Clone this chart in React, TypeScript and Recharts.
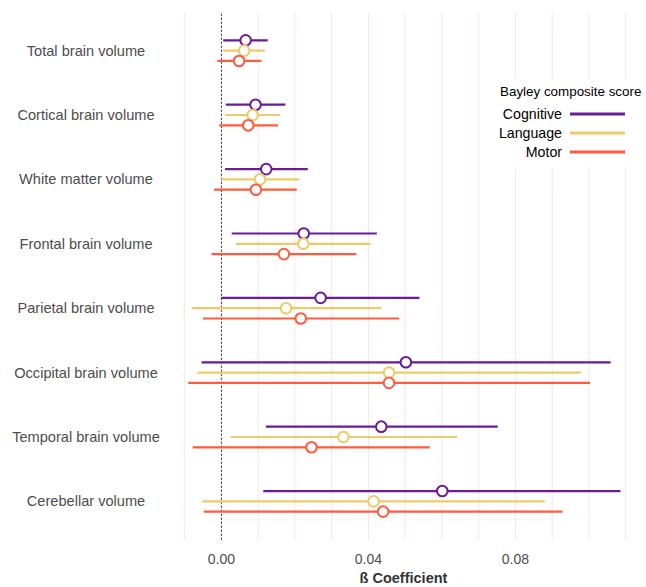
import React from 'react';
import { ScatterChart, Scatter, XAxis, YAxis, ErrorBar, ReferenceLine, Legend } from 'recharts';

// regions, top to bottom
const REGIONS = [
  'Total brain volume',
  'Cortical brain volume',
  'White matter volume',
  'Frontal brain volume',
  'Parietal brain volume',
  'Occipital brain volume',
  'Temporal brain volume',
  'Cerebellar volume',
];

// estimate, lower CI, upper CI per region
const COG_EST = [0.0066, 0.0093, 0.0122, 0.0224, 0.0270, 0.0502, 0.0435, 0.0601];
const COG_LOW = [0.0005, 0.0012, 0.0010, 0.0028, 0.0000, -0.0054, 0.0121, 0.0114];
const COG_HIGH = [0.0126, 0.0174, 0.0235, 0.0423, 0.0539, 0.1059, 0.0752, 0.1086];

const LANG_EST = [0.0062, 0.0085, 0.0105, 0.0223, 0.0176, 0.0456, 0.0332, 0.0414];
const LANG_LOW = [0.0005, 0.0010, 0.0000, 0.0039, -0.0081, -0.0065, 0.0025, -0.0052];
const LANG_HIGH = [0.0118, 0.0160, 0.0212, 0.0406, 0.0435, 0.0978, 0.0641, 0.0880];

const MOT_EST = [0.0048, 0.0073, 0.0094, 0.0170, 0.0216, 0.0456, 0.0245, 0.0440];
const MOT_LOW = [-0.0011, -0.0006, -0.0020, -0.0027, -0.0050, -0.0090, -0.0078, -0.0048];
const MOT_HIGH = [0.0109, 0.0154, 0.0205, 0.0367, 0.0484, 0.1003, 0.0567, 0.0928];

const X_TICKS = [0, 0.04, 0.08];
const GRID_X = [-0.01, 0.01, 0.02, 0.03, 0.04, 0.05, 0.06, 0.07, 0.08, 0.09, 0.1, 0.11];

const FONT = '"Liberation Sans", Arial, sans-serif';

const SERIES = [
  { name: 'Cognitive', color: '#6a1b9a', dodge: -0.16, est: COG_EST, low: COG_LOW, high: COG_HIGH },
  { name: 'Language', color: '#eccb6a', dodge: 0, est: LANG_EST, low: LANG_LOW, high: LANG_HIGH },
  { name: 'Motor', color: '#ff5b3d', dodge: 0.16, est: MOT_EST, low: MOT_LOW, high: MOT_HIGH },
];

function rows(s: (typeof SERIES)[number]) {
  return s.est.map((v, i) => ({
    x: v,
    y: i + s.dodge,
    err: [v - s.low[i], s.high[i] - v],
  }));
}

function RegionTick({ y, payload }: any) {
  return (
    <text x={86} y={y} textAnchor="middle" dominantBaseline="central" fontSize={14.6} fill="#4d4d4d" fontFamily={FONT}>
      {REGIONS[payload.value]}
    </text>
  );
}

function LegendBox() {
  return (
    <div style={{ background: '#fff', width: 147, height: 88, fontFamily: FONT, color: '#000' }}>
      <div style={{ height: 25, lineHeight: '25px', fontSize: 13.4, paddingLeft: 7, whiteSpace: 'nowrap' }}>
        Bayley composite score
      </div>
      {SERIES.map((s) => (
        <div key={s.name} style={{ display: 'flex', alignItems: 'center', height: 19 }}>
          <span style={{ width: 69, textAlign: 'right', fontSize: 14.2 }}>{s.name}</span>
          <svg width={55} height={4} style={{ marginLeft: 8 }}>
            <line x1={0} x2={55} y1={2} y2={2} stroke={s.color} strokeWidth={3} />
          </svg>
        </div>
      ))}
    </div>
  );
}

export default function App() {
  return (
    <div style={{ position: 'absolute', left: 0, top: 0, width: 646, height: 587, background: '#fff' }}>
      <ScatterChart width={646} height={587} margin={{ top: 12, right: 6, bottom: 17, left: 0 }}>
        <XAxis
          type="number"
          dataKey="x"
          domain={[-0.0148, 0.1139]}
          allowDataOverflow
          ticks={X_TICKS}
          tickFormatter={(v: number) => v.toFixed(2)}
          axisLine={false}
          tickLine={false}
          tickMargin={8}
          height={30}
          tick={{ fontSize: 14, fill: '#4d4d4d', fontFamily: FONT }}
          label={{ value: 'ß Coefficient', position: 'insideBottom', offset: -13, fontSize: 14.5, fontWeight: 'bold', fill: '#333', fontFamily: FONT }}
        />
        <YAxis
          type="number"
          dataKey="y"
          domain={[-0.6, 7.6]}
          reversed
          allowDataOverflow
          ticks={[0, 1, 2, 3, 4, 5, 6, 7]}
          width={167}
          axisLine={false}
          tickLine={false}
          tick={<RegionTick />}
        />
        {GRID_X.map((g) => (
          <ReferenceLine key={g} x={g} stroke="#fde3e3" strokeWidth={1} />
        ))}
        <ReferenceLine x={0} stroke="#5e3a3a" strokeDasharray="2.5 1.5" strokeWidth={1} />
        <Legend
          layout="vertical"
          align="center"
          verticalAlign="middle"
          wrapperStyle={{ left: 493, top: 79, width: 147 }}
          content={() => <LegendBox />}
        />
        {SERIES.map((s) => (
          <Scatter
            key={s.name}
            name={s.name}
            data={rows(s)}
            isAnimationActive={false}
            shape={(p: any) => (
              <circle cx={p.cx} cy={p.cy} r={5.3} fill="#fff" stroke={s.color} strokeWidth={2} />
            )}
          >
            <ErrorBar dataKey="err" direction="x" width={0} stroke={s.color} strokeWidth={2.2} isAnimationActive={false} />
          </Scatter>
        ))}
      </ScatterChart>
    </div>
  );
}
